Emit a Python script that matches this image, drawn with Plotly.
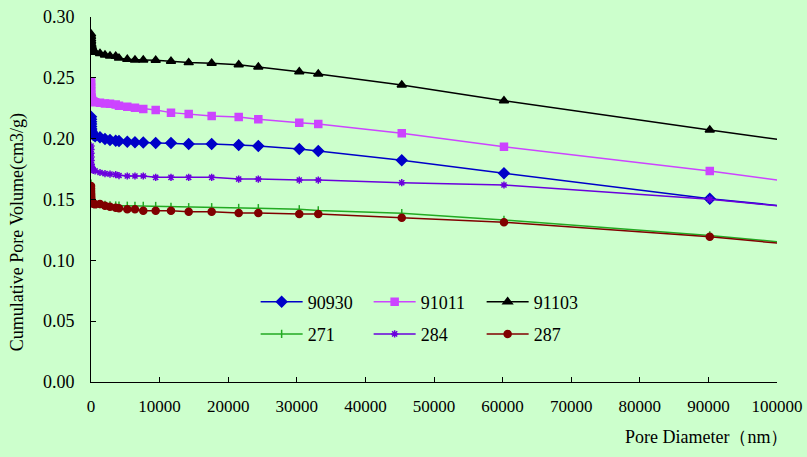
import plotly.graph_objects as go

# pore diameter (nm), shared by all samples
pore_diameter = [5, 8, 12, 20, 30, 50, 80, 130, 200, 350, 600,
                 1310, 2040, 2770, 3600, 4080, 5290, 6410, 7620, 9430, 11660,
                 14240, 17590, 21530, 24390, 30360, 33130,
                 45300, 60200, 90200, 115000]

# cumulative pore volume (cm3/g)
v_90930 = [0.218, 0.216, 0.214, 0.212, 0.210, 0.208, 0.206, 0.205, 0.204, 0.203, 0.202,
           0.2011, 0.1997, 0.1989, 0.1983, 0.1980, 0.1975, 0.1970, 0.1968, 0.1964, 0.1964,
           0.1956, 0.1956, 0.1948, 0.1940, 0.1915, 0.1899,
           0.1822, 0.1715, 0.1506, 0.1368]
v_91011 = [0.247, 0.245, 0.242, 0.239, 0.236, 0.234, 0.233, 0.232, 0.231, 0.2305, 0.230,
           0.2295, 0.2290, 0.2286, 0.2280, 0.2270, 0.2263, 0.2255, 0.2244, 0.2236, 0.2214,
           0.2203, 0.2186, 0.2178, 0.2159, 0.2131, 0.2120,
           0.2044, 0.1934, 0.1734, 0.1547]
v_91103 = [0.286, 0.284, 0.282, 0.280, 0.278, 0.277, 0.276, 0.275, 0.274, 0.272, 0.271,
           0.2700, 0.2688, 0.2680, 0.2678, 0.2662, 0.2652, 0.2647, 0.2647, 0.2645, 0.2636,
           0.2625, 0.2620, 0.2608, 0.2589, 0.2550, 0.2531,
           0.2441, 0.2312, 0.2071, 0.1878]
v_271 = [0.163, 0.161, 0.159, 0.156, 0.154, 0.152, 0.150, 0.149, 0.148, 0.147, 0.1465,
         0.1462, 0.1455, 0.1452, 0.1450, 0.1449, 0.1448, 0.1447, 0.1447, 0.1446, 0.1438,
         0.1436, 0.1436, 0.1430, 0.1428, 0.1419, 0.1410,
         0.1387, 0.1331, 0.1205, 0.1073]
v_284 = [0.194, 0.191, 0.188, 0.185, 0.182, 0.179, 0.177, 0.176, 0.175, 0.174, 0.1735,
         0.1722, 0.1713, 0.1709, 0.1705, 0.1697, 0.1693, 0.1693, 0.1693, 0.1682, 0.1682,
         0.1682, 0.1682, 0.1668, 0.1668, 0.1660, 0.1660,
         0.1638, 0.1619, 0.1502, 0.1368]
v_287 = [0.161, 0.159, 0.157, 0.155, 0.153, 0.151, 0.149, 0.148, 0.147, 0.1465, 0.146,
         0.1463, 0.1449, 0.1441, 0.1433, 0.1428, 0.1419, 0.1419, 0.1408, 0.1408, 0.1408,
         0.1400, 0.1400, 0.1389, 0.1389, 0.1381, 0.1381,
         0.1350, 0.1313, 0.1194, 0.1062]

series = [
    ("90930", v_90930, "#0000C8", "diamond", 8, "legend"),
    ("91011", v_91011, "#CC44FF", "square", 7, "legend"),
    ("91103", v_91103, "#000000", "triangle-up", 8, "legend"),
    ("271", v_271, "#22AA22", "line-ns", 6, "legend2"),
    ("284", v_284, "#6A00DD", "asterisk", 6, "legend2"),
    ("287", v_287, "#800000", "circle", 7, "legend2"),
]

font_family = "Liberation Serif"
bg = "#CCFFCC"

fig = go.Figure()
for name, vals, color, symbol, size, leg in series:
    fig.add_trace(go.Scatter(
        x=pore_diameter, y=vals, name=name, mode="lines+markers",
        line=dict(color=color, width=1.5),
        marker=dict(symbol=symbol, size=size, color=color,
                    line=dict(color=color, width=1.5)),
        legend=leg,
    ))

legend_style = dict(
    orientation="h", xanchor="left", yanchor="middle",
    bgcolor="rgba(0,0,0,0)", entrywidth=56, itemwidth=42,
    font=dict(family=font_family, size=18, color="black"),
)

fig.update_layout(
    width=807, height=457,
    margin=dict(l=91, r=30, t=17, b=75, autoexpand=False),
    paper_bgcolor=bg, plot_bgcolor=bg,
    font=dict(family=font_family, size=17, color="black"),
    legend=dict(x=0.24, y=0.219, **legend_style),
    legend2=dict(x=0.24, y=0.131, **legend_style),
    xaxis=dict(
        range=[0, 100000], dtick=10000, tick0=0, tickformat="d",
        showgrid=False, zeroline=False, showline=True, linecolor="black", linewidth=1,
        ticks="inside", ticklen=5, tickcolor="black", ticklabelstandoff=9,
        tickfont=dict(family=font_family, size=17),
    ),
    yaxis=dict(
        range=[0, 0.30], dtick=0.05, tick0=0, tickformat=".2f",
        showgrid=False, zeroline=False, showline=True, linecolor="black", linewidth=1,
        ticks="inside", ticklen=5, tickcolor="black", ticklabelstandoff=12,
        tickfont=dict(family=font_family, size=18),
    ),
    annotations=[
        dict(text="Cumulative Pore Volume(cm3/g)", textangle=-90,
             xref="paper", yref="paper", x=-0.108, y=0.41,
             xanchor="center", yanchor="middle", showarrow=False,
             font=dict(family=font_family, size=18)),
        dict(text="Pore Diameter（nm）",
             xref="paper", yref="paper", x=1.019, y=-0.151,
             xanchor="right", yanchor="middle", showarrow=False,
             font=dict(family=font_family, size=18)),
    ],
)

# drop the browser's default page margin so the chart sits at the window corner
fig.write_html("out.html", config={"displayModeBar": False},
               post_script="document.body.style.margin='0';")
